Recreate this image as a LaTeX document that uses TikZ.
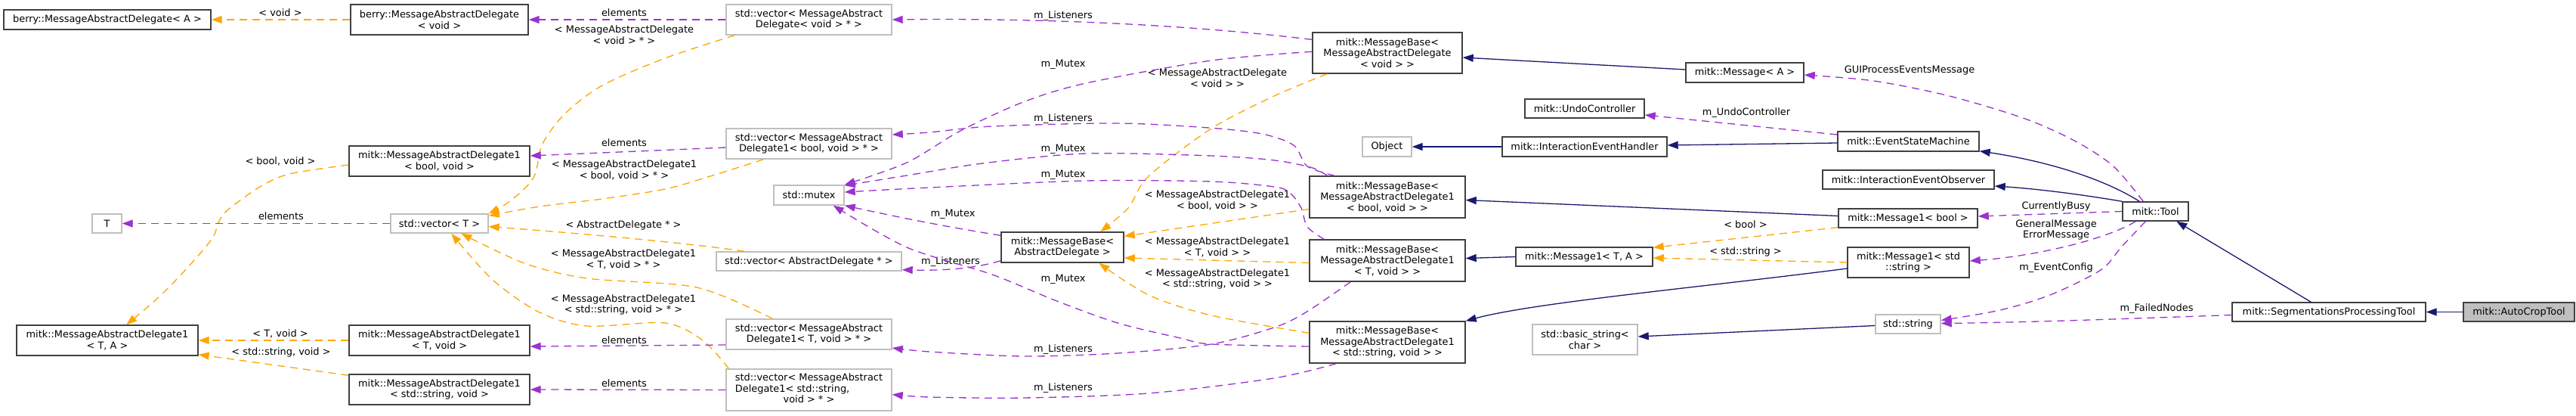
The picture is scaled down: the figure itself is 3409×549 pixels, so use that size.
\documentclass[tikz,border=0pt]{standalone}
\usepackage{fontspec}
\setmainfont{DejaVu Sans}
\usetikzlibrary{arrows.meta}
\definecolor{navy}{HTML}{191970}
\definecolor{purp}{HTML}{9A32CD}
\definecolor{orng}{HTML}{FFA500}
\definecolor{docb}{HTML}{404040}
\definecolor{extb}{HTML}{BFBFBF}
\newcommand{\dxfont}{\fontsize{12.9}{14.5}\selectfont}
\tikzset{
  cls/.style={draw=docb, line width=1.4pt, fill=white, inner sep=0pt, align=center, font=\dxfont},
  ext/.style={cls, draw=extb},
  sel/.style={cls, fill=extb},
  lab/.style={inner sep=0pt, align=center, font=\dxfont},
  tipa/.style={-{Triangle[length=14pt,width=10pt]}},
  inh/.style={draw=navy, line width=1.3pt, tipa},
  use/.style={draw=purp, line width=1.3pt, dash pattern=on 10pt off 7pt, tipa},
  tmpl/.style={draw=orng, line width=1.3pt, dash pattern=on 10pt off 7pt, tipa},
}
\begin{document}
\begin{tikzpicture}[x=1pt,y=-1pt]
\useasboundingbox (0,0) rectangle (3409,549);
% ---------- nodes ----------
\node[cls, minimum width=274pt, minimum height=26pt] (bA) at (142,26) {berry::MessageAbstractDelegate< A >};
\node[cls, minimum width=235pt, minimum height=40pt] (bV) at (581.5,26) {berry::MessageAbstractDelegate\\< void >};
\node[cls, minimum width=239pt, minimum height=40pt] (mBV) at (581.5,213) {mitk::MessageAbstractDelegate1\\< bool, void >};
\node[ext, minimum width=39pt, minimum height=25pt] (T) at (141.5,295.5) {T};
\node[ext, minimum width=129pt, minimum height=25pt] (vT) at (581.5,295.5) {std::vector< T >};
\node[cls, minimum width=240pt, minimum height=40pt] (mTA) at (142,450) {mitk::MessageAbstractDelegate1\\< T, A >};
\node[cls, minimum width=239pt, minimum height=40pt] (mTV) at (581.5,450) {mitk::MessageAbstractDelegate1\\< T, void >};
\node[cls, minimum width=239pt, minimum height=40pt] (mSV) at (581.5,515) {mitk::MessageAbstractDelegate1\\< std::string, void >};
\node[ext, minimum width=219pt, minimum height=40pt] (vV) at (1070.5,26) {std::vector< MessageAbstract\\Delegate< void > * >};
\node[ext, minimum width=219pt, minimum height=40pt] (vB) at (1070.5,190) {std::vector< MessageAbstract\\Delegate1< bool, void > * >};
\node[ext, minimum width=93pt, minimum height=26pt] (mutex) at (1070.5,258) {std::mutex};
\node[ext, minimum width=245pt, minimum height=25pt] (vAD) at (1070.5,345.5) {std::vector< AbstractDelegate * >};
\node[ext, minimum width=219pt, minimum height=40pt] (vTV) at (1070.5,442) {std::vector< MessageAbstract\\Delegate1< T, void > * >};
\node[ext, minimum width=219pt, minimum height=55pt] (vSV) at (1070.5,515.5) {\begin{tabular}{@{}l@{}}std::vector< MessageAbstract\\Delegate1< std::string,\\\multicolumn{1}{@{}c@{}}{void > * >}\end{tabular}};
\node[cls, minimum width=198pt, minimum height=54pt] (mbV) at (1836,70) {mitk::MessageBase<\\MessageAbstractDelegate\\< void > >};
\node[ext, minimum width=65pt, minimum height=26pt] (obj) at (1835.5,194) {Object};
\node[cls, minimum width=206pt, minimum height=55pt] (mbB) at (1836,260.5) {mitk::MessageBase<\\MessageAbstractDelegate1\\< bool, void > >};
\node[cls, minimum width=162pt, minimum height=40pt] (mbAD) at (1406,327) {mitk::MessageBase<\\AbstractDelegate >};
\node[cls, minimum width=206pt, minimum height=55pt] (mbT) at (1836,344.5) {mitk::MessageBase<\\MessageAbstractDelegate1\\< T, void > >};
\node[cls, minimum width=206pt, minimum height=55pt] (mbS) at (1836,452.5) {mitk::MessageBase<\\MessageAbstractDelegate1\\< std::string, void > >};
\node[cls, minimum width=156pt, minimum height=26pt] (msgA) at (2309,96) {mitk::Message< A >};
\node[cls, minimum width=158pt, minimum height=25pt] (undo) at (2097,143.5) {mitk::UndoController};
\node[cls, minimum width=218pt, minimum height=26pt] (ieh) at (2097,194) {mitk::InteractionEventHandler};
\node[cls, minimum width=187pt, minimum height=26pt] (esm) at (2525.5,187) {mitk::EventStateMachine};
\node[cls, minimum width=227pt, minimum height=25pt] (ieo) at (2525.5,237.5) {mitk::InteractionEventObserver};
\node[cls, minimum width=184pt, minimum height=25pt] (m1B) at (2525,288.5) {mitk::Message1< bool >};
\node[cls, minimum width=181pt, minimum height=25pt] (m1TA) at (2096.5,339.5) {mitk::Message1< T, A >};
\node[cls, minimum width=161pt, minimum height=40pt] (m1S) at (2525.5,347) {mitk::Message1< std\\::string >};
\node[ext, minimum width=139pt, minimum height=40pt] (bstr) at (2097.5,449) {std::basic\_string<\\char >};
\node[ext, minimum width=86pt, minimum height=25pt] (str) at (2525,428.5) {std::string};
\node[cls, minimum width=87pt, minimum height=25pt] (tool) at (2852.5,279.5) {mitk::Tool};
\node[cls, minimum width=256pt, minimum height=25pt] (spt) at (3082,412.5) {mitk::SegmentationsProcessingTool};
\node[sel, minimum width=147pt, minimum height=25pt] (act) at (3333.5,412.5) {mitk::AutoCropTool};
% ---------- edge labels ----------
\node[lab] (l01) at (371,17) {< void >};
\node[lab] (l02) at (826,17) {elements};
\node[lab] (l03) at (826,46) {< MessageAbstractDelegate\\< void > * >};
\node[lab] (l04) at (371,213) {< bool, void >};
\node[lab] (l05) at (826,189) {elements};
\node[lab] (l06) at (826,225) {< MessageAbstractDelegate1\\< bool, void > * >};
\node[lab] (l07) at (372,286) {elements};
\node[lab] (l08) at (825,298) {< AbstractDelegate * >};
\node[lab] (l09) at (825,343) {< MessageAbstractDelegate1\\< T, void > * >};
\node[lab] (l10) at (825,403) {< MessageAbstractDelegate1\\< std::string, void > * >};
\node[lab] (l11) at (371,441) {< T, void >};
\node[lab] (l12) at (372,466) {< std::string, void >};
\node[lab] (l13) at (826,450) {elements};
\node[lab] (l14) at (826,507) {elements};
\node[lab] (l15) at (1407,21) {m\_Listeners};
\node[lab] (l16) at (1407,85) {m\_Mutex};
\node[lab] (l17) at (1611,103) {< MessageAbstractDelegate\\< void > >};
\node[lab] (l18) at (1407,157) {m\_Listeners};
\node[lab] (l19) at (1407,197) {m\_Mutex};
\node[lab] (l20) at (1407,231) {m\_Mutex};
\node[lab] (l21) at (1611,265) {< MessageAbstractDelegate1\\< bool, void > >};
\node[lab] (l22) at (1261,283) {m\_Mutex};
\node[lab] (l23) at (1258,346) {m\_Listeners};
\node[lab] (l24) at (1611,327) {< MessageAbstractDelegate1\\< T, void > >};
\node[lab] (l25) at (1611,369) {< MessageAbstractDelegate1\\< std::string, void > >};
\node[lab] (l26) at (1407,369) {m\_Mutex};
\node[lab] (l27) at (1407,462) {m\_Listeners};
\node[lab] (l28) at (1407,513) {m\_Listeners};
\node[lab] (l29) at (2527,93) {GUIProcessEventsMessage};
\node[lab] (l30) at (2311,149) {m\_UndoController};
\node[lab] (l31) at (2310,297) {< bool >};
\node[lab] (l32) at (2310,333) {< std::string >};
\node[lab] (l33) at (2721,273) {CurrentlyBusy};
\node[lab] (l34) at (2721,304) {GeneralMessage\\ErrorMessage};
\node[lab] (l35) at (2721,354) {m\_EventConfig};
\node[lab] (l36) at (2854,408) {m\_FailedNodes};
% ---------- edges ----------
\draw[tmpl] (bV.west) -- (bA.east);
\draw[use] (vV.west) -- (bV.east);
\draw[tmpl] plot[smooth] coordinates {([xshift=12pt]vV.south west) (880,77) (797,113) (748,150) (718,190) (706,235) (675,266) (vT.north east)};
\draw[tmpl] plot[smooth] coordinates {([yshift=-5pt]mBV.west) (383,230) (344,247) (302,277) (290,292) (281,315) (249,353) (210,393) ([xshift=146pt]mTA.north west)};
\draw[use] ([yshift=-5pt]vB.west) -- ([yshift=7pt]mBV.east);
\draw[tmpl] plot[smooth] coordinates {([xshift=50pt]vB.south west) (940,233) (880,250) (797,263) (714,273) ([yshift=-3pt]vT.north east)};
\draw[use] (vT.west) -- (T.east);
\draw[tmpl] (mTV.west) -- (mTA.east);
\draw[tmpl] ([yshift=-2pt]mSV.north west) -- ([yshift=2pt]mTA.south east);
\draw[tmpl] ([xshift=38pt]vAD.north west) .. controls (900,320) and (760,308) .. ([yshift=-4pt]vT.east);
\draw[tmpl] plot[smooth] coordinates {([xshift=62pt]vTV.north west) (922,380) (777,368) (694,348) ([xshift=94pt]vT.south west)};
\draw[tmpl] plot[smooth] coordinates {([xshift=4pt]vSV.north west) (930,450) (880,427) (777,431) (714,413) (652,370) ([xshift=81pt]vT.south west)};
\draw[use] ([yshift=-14pt]vTV.west) -- ([yshift=-8pt]mTV.east);
\draw[use] (vSV.west) -- (mSV.east);
\draw[use] ([yshift=-10pt]mbV.north west) .. controls (1550,30) and (1350,24) .. (vV.east);
\draw[use] plot[smooth] coordinates {([yshift=-26pt]mbV.north west) (1603,80) (1437,110) (1354,135) (1271,173) (1200,215) (mutex.north east)};
\draw[tmpl] plot[smooth] coordinates {([xshift=20pt]mbV.south west) (1686,127) (1603,170) (1520,233) (1493,275) ([xshift=132pt]mbAD.north west)};
\draw[use] plot[smooth] coordinates {([xshift=34pt]mbB.north west) (1730,220) (1712,192) (1670,177) (1600,169) (1479,163) (1313,167) (1230,175) ([yshift=12pt]vB.east)};
\draw[use] plot[smooth] coordinates {([xshift=24pt]mbB.north west) (1737,222) (1687,212) (1603,206) (1437,203) (1300,216) (1200,232) ([yshift=-1pt]mutex.north east)};
\draw[use] plot[smooth] coordinates {([xshift=20pt]mbT.north west) (1730,300) (1722,275) (1707,255) (1686,247) (1603,240) (1437,239) (1230,248) ([yshift=4pt]mutex.east)};
\draw[use] ([yshift=-5pt]mbAD.north west) .. controls (1240,298) and (1170,283) .. (mutex.south east);
\draw[use] plot[smooth] coordinates {([yshift=-5.5pt]mbS.west) (1603,455) (1562,447) (1479,427) (1396,397) (1313,363) (1200,327) ([xshift=-15pt]mutex.south east)};
\draw[use] ([yshift=3pt]mbAD.south west) .. controls (1290,355) and (1250,358) .. ([yshift=2pt]vAD.south east);
\draw[tmpl] ([yshift=-16pt]mbB.west) -- ([yshift=-6pt]mbAD.north east);
\draw[tmpl] ([yshift=-3pt]mbT.west) -- ([yshift=-14pt]mbAD.east);
\draw[tmpl] plot[smooth] coordinates {([yshift=-16pt]mbS.north west) (1603,417) (1520,390) ([xshift=130pt]mbAD.south west)};
\draw[use] plot[smooth] coordinates {([xshift=55pt]mbT.south west) (1728,413) (1686,433) (1603,455) (1479,467) (1354,471) (1230,465) ([yshift=-18pt]vTV.east)};
\draw[use] plot[smooth] coordinates {([xshift=36pt]mbS.south west) (1686,500) (1520,520) (1354,526) (1230,525) ([yshift=-6pt]vSV.east)};
\draw[inh] ([yshift=4pt]msgA.west) -- ([yshift=-6pt]mbV.east);
\draw[inh] (m1TA.west) -- ([yshift=3pt]mbT.east);
\draw[inh] ([yshift=3pt]m1B.west) -- ([yshift=-4pt]mbB.east);
\draw[inh] ([yshift=-8pt]m1S.west) .. controls (2250,380) and (2030,400) .. (mbS.north east);
\draw[inh] ([yshift=-2pt]str.west) -- ([yshift=4pt]bstr.east);
\draw[inh] ([yshift=-2pt]esm.west) -- ([yshift=2pt]ieh.east);
\draw[inh] (ieh.west) -- (obj.east);
\draw[inh] ([xshift=23pt]tool.north west) .. controls (2790,240) and (2720,215) .. ([yshift=1pt]esm.south east);
\draw[inh] (tool.north west) .. controls (2760,258) and (2700,250) .. ([yshift=-8.5pt]ieo.east);
\draw[inh] ([xshift=105pt]spt.north west) -- ([xshift=72pt]tool.south west);
\draw[inh] (act.west) -- (spt.east);
\draw[use] plot[smooth] coordinates {([xshift=28pt]tool.north west) (2797,220) (2747,187) (2680,157) (2580,127) (2480,107) ([yshift=-3pt]msgA.east)};
\draw[use] ([yshift=9pt]esm.west) -- ([yshift=-8.5pt]undo.east);
\draw[use] (tool.west) -- ([yshift=2.5pt]m1B.east);
\draw[use] ([xshift=18pt]tool.south west) .. controls (2790,315) and (2700,338) .. ([yshift=2pt]m1S.east);
\draw[use] plot[smooth] coordinates {([xshift=31pt]tool.south west) (2807,327) (2780,357) (2713,390) (2647,410) ([yshift=5pt]str.east)};
\draw[use] ([yshift=-4pt]spt.west) .. controls (2850,420) and (2700,426) .. ([yshift=1pt]str.east);
\draw[tmpl] ([yshift=1pt]m1B.south west) -- ([yshift=-1pt]m1TA.north east);
\draw[tmpl] (m1S.west) -- ([yshift=-1.5pt]m1TA.east);
\end{tikzpicture}
\end{document}
